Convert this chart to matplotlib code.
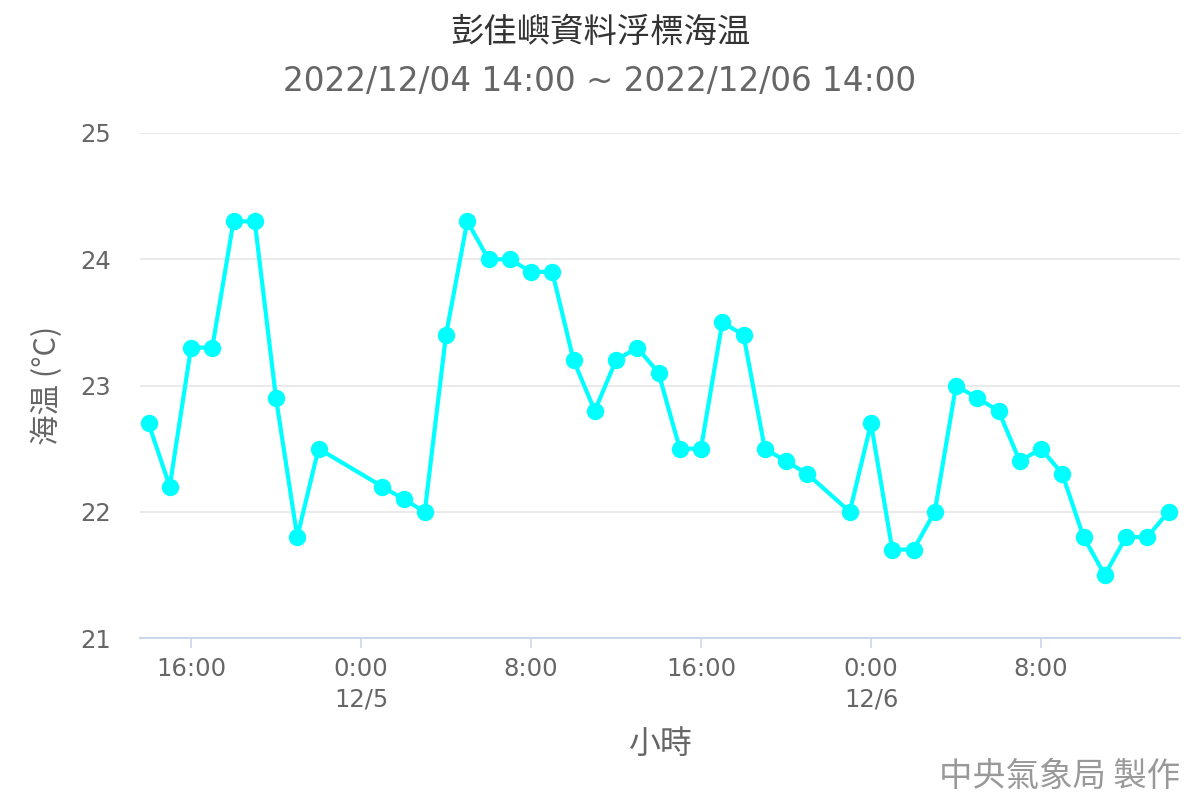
import numpy as np
import matplotlib.pyplot as plt

plt.rcParams['font.family'] = ['DejaVu Sans', 'Noto Sans CJK TC']

# hours since 2022/12/04 14:00 (23:00 12/4, 0:00 12/5 and 22:00 12/5 missing)
hours = [0, 1, 2, 3, 4, 5, 6, 7, 8,
         11, 12, 13, 14, 15, 16, 17, 18, 19, 20, 21, 22, 23, 24, 25, 26,
         27, 28, 29, 30, 31,
         33, 34, 35, 36, 37, 38, 39, 40, 41, 42, 43, 44, 45, 46, 47, 48]
temps = [22.7, 22.2, 23.3, 23.3, 24.3, 24.3, 22.9, 21.8, 22.5,
         22.2, 22.1, 22.0, 23.4, 24.3, 24.0, 24.0, 23.9, 23.9, 23.2, 22.8, 23.2, 23.3, 23.1, 22.5, 22.5,
         23.5, 23.4, 22.5, 22.4, 22.3,
         22.0, 22.7, 21.7, 21.7, 22.0, 23.0, 22.9, 22.8, 22.4, 22.5, 22.3, 21.8, 21.5, 21.8, 21.8, 22.0]

tick_pos = [2, 10, 18, 26, 34, 42]
tick_labels = ['16:00', '0:00\n12/5', '8:00', '16:00', '0:00\n12/6', '8:00']

cjk = ['Noto Sans CJK TC', 'DejaVu Sans']
grey = '#666666'

fig = plt.figure(figsize=(12, 8), dpi=100)
ax = fig.add_axes([140/1200, 162/800, 1040/1200, 505/800])

ax.plot(hours, temps, color='#00ffff', lw=3, marker='o', ms=11.5,
        solid_joinstyle='round', zorder=3, clip_on=False)

ax.set_xlim(-0.4, 48.54)
ax.set_ylim(21, 25)
ax.set_yticks([21, 22, 23, 24, 25])
ax.set_xticks(tick_pos)
ax.set_xticklabels(tick_labels, fontsize=17.5, color=grey, linespacing=1.3)
ax.tick_params(axis='y', length=0, labelsize=17.5, labelcolor=grey, pad=21)
ax.tick_params(axis='x', length=7, width=1.2, color='#ccd6eb', pad=7)
for lab in ax.get_xticklabels():
    lab.set_verticalalignment('top')

ax.grid(axis='y', color='#e6e6e6', lw=1.2)
ax.set_axisbelow(True)
for s in ['top', 'left', 'right']:
    ax.spines[s].set_visible(False)
ax.spines['bottom'].set_color('#ccd6eb')
ax.spines['bottom'].set_linewidth(1.5)

ax.set_ylabel('海温 (°C)', family=cjk, fontsize=22, color=grey, labelpad=12)
ax.set_xlabel('小時', family=cjk, fontsize=23, color=grey, labelpad=12)

fig.text(0.5, 1 - 32/800, '彭佳嶼資料浮標海温', family=cjk, fontsize=24,
         color='#333333', ha='center', va='center')
fig.text(0.5, 1 - 82/800, '2022/12/04 14:00 ~ 2022/12/06 14:00', fontsize=23.5,
         color=grey, ha='center', va='center')
fig.text(1180/1200, 1 - 776/800, '中央氣象局 製作', family=cjk, fontsize=24,
         color='#999999', ha='right', va='center')

fig.savefig('out.png', dpi=100)
